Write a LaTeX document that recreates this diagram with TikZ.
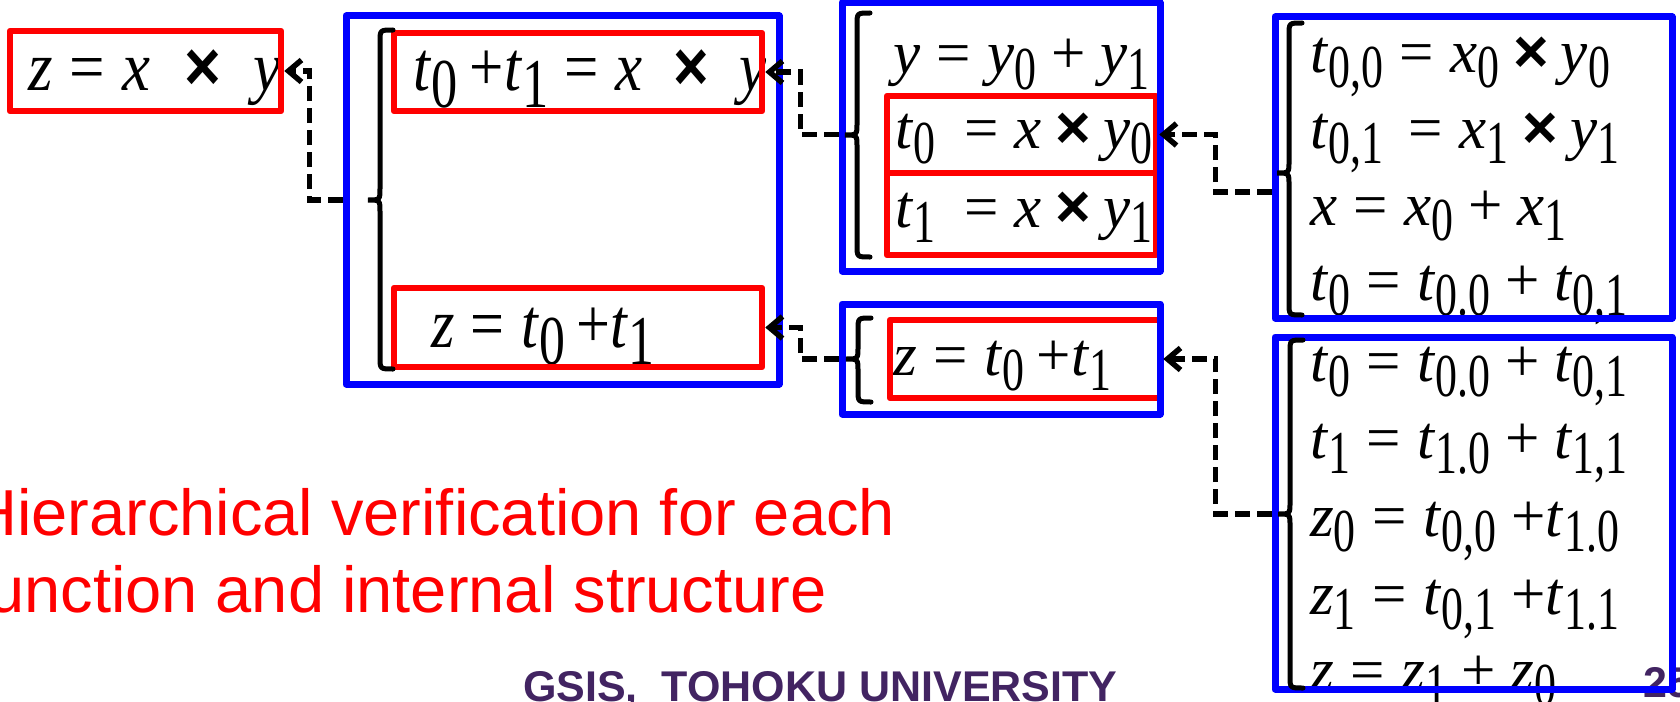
\documentclass[tikz,border=0pt]{standalone}
\usepackage{fontspec}
\setmainfont{Liberation Serif}
\setsansfont{Liberation Sans}
\usetikzlibrary{arrows.meta,fit}
\definecolor{gsis}{RGB}{66,36,98}
\definecolor{pblue}{RGB}{0,0,255}
\definecolor{pred}{RGB}{255,0,0}
\def\sbx{0.72}
\newcommand\V[1]{\textit{#1}}
\newcommand\Sb[1]{\raisebox{-0.25em}{\scalebox{\sbx}[1]{#1}}}
\newcommand\X{{\sffamily\bfseries ×}}
\newcommand\Eq{\hspace{0.27em}=\hspace{0.27em}}
\newcommand\Pl{\hspace{0.24em}+\hspace{0.24em}}
\newcommand\Tm{\hspace{0.22em}\X\hspace{0.2em}}
\newcommand\brc[4]{\draw[bracestyle] (#1+25,#2) .. controls (#1+12,#2) .. (#1+12,#2+12) -- (#1+12,#3-12) .. controls (#1+12,#3) .. (#1,#3) .. controls (#1+12,#3) .. (#1+12,#3+12) -- (#1+12,#4-12) .. controls (#1+12,#4) .. (#1+25,#4);}
\tikzset{
  bigtxt/.style={anchor=base west, inner sep=0, font=\def\sbx{0.86}\fontsize{70}{84}\selectfont},
  midtxt/.style={anchor=base west, inner sep=0, font=\fontsize{61}{73}\selectfont},
  redtxt/.style={anchor=base west, inner sep=0, text=pred, font=\sffamily\fontsize{65}{77}\selectfont},
  foottxt/.style={anchor=base west, inner sep=0, text=gsis, font=\sffamily\bfseries\fontsize{43}{50}\selectfont},
  redbox/.style={draw=pred, line width=6.5pt, line join=round, inner sep=0, fit={#1}},
  bluebox/.style={draw=pblue, line width=7pt, line join=round, inner sep=0, fit={#1}},
  bracestyle/.style={line width=5pt, black, line cap=round},
  dconn/.style={line width=5.5pt, black, dash pattern=on 15pt off 7pt, -{Straight Barb[length=13pt,width=22pt]}},
}
\begin{document}
\begin{tikzpicture}[x=1pt,y=-1pt]
\useasboundingbox (0,0) rectangle (1680,701);
\clip (0,0) rectangle (1680,701);
% texts
\node[bigtxt] (tA) at (28,90) {\scalebox{0.9}[1]{\V{z}\Eq\V{x}\hspace{0.55em}\X\hspace{0.5em}\V{y}}};
\node[bigtxt] (tB1) at (413,90) {\scalebox{0.87}[1]{\V{t}\Sb{0}\hspace{0.2em}+\V{t}\Sb{1}\Eq\V{x}\hspace{0.5em}\X\hspace{0.5em}\V{y}}};
\node[bigtxt] (tB2) at (431,347) {\scalebox{0.86}[1]{\V{z}\Eq\V{t}\Sb{0}\hspace{0.2em}+\V{t}\Sb{1}}};
\node[midtxt] (tC0) at (893,74) {\V{y}\Eq\V{y}\Sb{0}\Pl\V{y}\Sb{1}};
\node[midtxt] (tC1) at (895,148) {\V{t}\Sb{0}\hspace{0.2em}\Eq\V{x}\Tm\V{y}\Sb{0}};
\node[midtxt] (tC2) at (895,227) {\V{t}\Sb{1}\hspace{0.2em}\Eq\V{x}\Tm\V{y}\Sb{1}};
\node[midtxt] (tD1) at (893,375) {\V{z}\Eq\V{t}\Sb{0}\hspace{0.2em}+\V{t}\Sb{1}};
\node[midtxt] (tE1) at (1310,72) {\V{t}\Sb{0,0}\Eq\V{x}\Sb{0}\Tm\V{y}\Sb{0}};
\node[midtxt] (tE2) at (1310,148) {\V{t}\Sb{0,1}\hspace{0.15em}\Eq\V{x}\Sb{1}\Tm\V{y}\Sb{1}};
\node[midtxt] (tE3) at (1310,225) {\V{x}\Eq\V{x}\Sb{0}\Pl\V{x}\Sb{1}};
\node[midtxt] (tE4) at (1310,300) {\V{t}\Sb{0}\Eq\V{t}\Sb{0.0}\Pl\V{t}\Sb{0,1}};
\node[midtxt] (tF1) at (1310,381) {\V{t}\Sb{0}\Eq\V{t}\Sb{0.0}\Pl\V{t}\Sb{0,1}};
\node[midtxt] (tF2) at (1310,458) {\V{t}\Sb{1}\Eq\V{t}\Sb{1.0}\Pl\V{t}\Sb{1,1}};
\node[midtxt] (tF3) at (1310,536) {\V{z}\Sb{0}\Eq\V{t}\Sb{0,0}\hspace{0.25em}+\V{t}\Sb{1.0}};
\node[midtxt] (tF4) at (1310,614) {\V{z}\Sb{1}\Eq\V{t}\Sb{0,1}\hspace{0.25em}+\V{t}\Sb{1.1}};
\node[midtxt] (tF5) at (1310,690) {\V{z}\Eq\V{z}\Sb{1}\Pl\V{z}\Sb{0}};
\node[redtxt] (h1) at (-30,535) {Hierarchical verification for each};
\node[redtxt] (h2) at (-30,612) {function and internal structure};
\node[foottxt] (gs) at (523,701) {GSIS,\ \ TOHOKU UNIVERSITY};
\node[foottxt] (pg) at (1643,697) {25};
% red boxes
\node[redbox={(10,31) (281,111)}] (A) {};
\node[redbox={(394,33) (762,111)}] (B1) {};
\node[redbox={(394,288) (762,367)}] (B2) {};
\node[redbox={(887,96) (1156,173)}] (C1) {};
\node[redbox={(887,173) (1156,255)}] (C2) {};
\node[redbox={(890,320) (1160,398)}] (D1) {};
% blue boxes
\node[bluebox={(346,16) (779,384)}] (Bb) {};
\node[bluebox={(842,3) (1160,271)}] (Cb) {};
\node[bluebox={(842,304) (1160,414)}] (Db) {};
\node[bluebox={(1275,17) (1672,318)}] (Eb) {};
\node[bluebox={(1275,337) (1672,689)}] (Fb) {};
% braces
\brc{368}{30}{200}{369}
\brc{845}{13}{135}{257}
\brc{846}{318}{359}{402}
\brc{1277}{23}{173}{315}
\brc{1278}{340}{514}{688}
% connectors
\coordinate (Bt) at (Bb.west |- 0,200);
\coordinate (Ct) at (Cb.west |- C1.east);
\coordinate (Dt) at (Db.west |- D1.east);
\coordinate (Et) at (Eb.west |- 0,192);
\coordinate (Ft) at (Fb.west |- 0,514);
\draw[dconn] (Bt) -- ++(-33,0) |- (A.east);
\draw[dconn] (Ct) -- ++(-38,0) |- (B1.east);
\draw[dconn] (Dt) -- ++(-38,0) |- (B2.east);
\draw[dconn] (Et) -- ++(-56,0) |- (C1.east);
\draw[dconn] (Ft) -- ++(-56,0) |- (D1.east);
\end{tikzpicture}
\end{document}
